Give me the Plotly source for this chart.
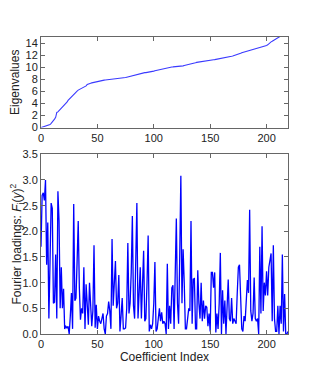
import plotly.graph_objects as go
from plotly.subplots import make_subplots

eigenvalues = [
    0.0, 0.05, 0.1, 0.2, 0.3, 0.35, 0.4, 0.45, 0.5, 0.7,
    0.9, 1.1, 1.4, 1.7, 2.5, 2.6, 2.8, 3.0, 3.15, 3.3,
    3.6, 3.8, 4.0, 4.2, 4.5, 4.7, 5.0, 5.2, 5.4, 5.6,
    5.75, 5.9, 6.05, 6.2, 6.3, 6.4, 6.45, 6.55, 6.65, 6.7,
    6.9, 7.15, 7.25, 7.3, 7.35, 7.4, 7.45, 7.5, 7.55, 7.6,
    7.65, 7.7, 7.75, 7.8, 7.82, 7.84, 7.86, 7.88, 7.9, 7.93,
    7.96, 8.0, 8.02, 8.04, 8.05, 8.06, 8.07, 8.08, 8.09, 8.1,
    8.1, 8.12, 8.15, 8.2, 8.25, 8.3, 8.35, 8.4, 8.45, 8.5,
    8.55, 8.6, 8.65, 8.72, 8.8, 8.85, 8.9, 8.95, 9.0, 9.02,
    9.05, 9.08, 9.1, 9.1, 9.12, 9.15, 9.18, 9.22, 9.26, 9.3,
    9.35, 9.4, 9.45, 9.5, 9.55, 9.6, 9.65, 9.7, 9.75, 9.8,
    9.85, 9.88, 9.92, 9.96, 10.0, 10.02, 10.04, 10.05, 10.06, 10.07,
    10.08, 10.09, 10.1, 10.12, 10.15, 10.18, 10.22, 10.28, 10.34, 10.4,
    10.42, 10.45, 10.5, 10.55, 10.6, 10.65, 10.7, 10.75, 10.8, 10.82,
    10.84, 10.86, 10.9, 10.93, 10.96, 11.0, 11.02, 11.05, 11.08, 11.1,
    11.13, 11.16, 11.2, 11.22, 11.25, 11.28, 11.3, 11.33, 11.36, 11.4,
    11.43, 11.46, 11.5, 11.55, 11.58, 11.62, 11.65, 11.7, 11.75, 11.8,
    11.85, 11.9, 11.95, 12.0, 12.05, 12.1, 12.2, 12.3, 12.4, 12.45,
    12.5, 12.55, 12.6, 12.7, 12.8, 12.85, 12.9, 12.95, 13.0, 13.05,
    13.1, 13.15, 13.2, 13.25, 13.3, 13.35, 13.4, 13.45, 13.5, 13.55,
    13.6, 13.7, 13.9, 14.1, 14.2, 14.3, 14.4, 14.5, 14.55, 14.65,
    14.8, 14.95, 15.1, 15.3, 15.5, 15.7, 15.9, 16.1, 16.3, 16.5,
]

loadings = [
    1.7, 2.7, 2.75, 2.6, 3.0, 1.35, 2.17, 0.3, 1.4, 2.55,
    2.45, 0.6, 0.62, 1.55, 0.3, 2.78, 2.2, 0.5, 1.3, 0.5,
    0.88, 0.1, 0.15, 0.12, 0.15, 0.0, 0.35, 0.8, 0.1, 2.53,
    0.65, 0.7, 1.4, 2.2, 0.9, 0.28, 0.5, 0.4, 1.3, 0.1,
    0.97, 0.5, 0.18, 1.0, 0.5, 0.15, 0.45, 1.73, 0.12, 0.57,
    0.1, 0.35, 0.25, 0.2, 0.3, 0.4, 0.1, 0.0, 0.35, 0.4,
    0.63, 0.45, 0.1, 1.85, 0.55, 0.9, 1.42, 0.5, 0.6, 1.15,
    0.05, 0.35, 0.7, 0.1, 0.1, 0.12, 0.5, 1.77, 0.4, 0.6,
    1.2, 2.3, 0.55, 0.3, 1.2, 2.55, 0.3, 0.7, 1.3, 0.3,
    0.8, 1.62, 0.25, 0.3, 1.0, 1.92, 0.05, 0.18, 0.1, 0.2,
    0.6, 1.4, 0.05, 0.1, 0.3, 0.5, 0.25, 0.42, 0.2, 0.25,
    0.2, 0.0, 1.37, 0.1, 0.55, 0.2, 0.9, 0.95, 0.1, 1.0,
    2.25, 0.6, 0.2, 1.5, 3.08, 0.6, 1.65, 1.0, 0.1, 0.1,
    0.3, 0.5, 0.45, 2.2, 0.2, 1.07, 1.08, 0.1, 0.1, 1.24,
    0.6, 0.3, 1.0, 0.25, 0.65, 0.3, 0.55, 0.52, 0.15, 0.4,
    0.05, 1.2, 1.2, 0.9, 1.2, 0.03, 0.4, 0.1, 0.6, 1.58,
    0.0, 0.85, 0.2, 0.65, 0.0, 0.4, 1.06, 0.3, 0.25, 0.7,
    0.2, 0.3, 0.25, 0.2, 0.8, 1.3, 1.35, 0.6, 0.1, 0.05,
    0.35, 0.25, 0.6, 1.05, 0.8, 2.42, 0.45, 0.25, 0.4, 1.1,
    0.3, 0.25, 0.3, 0.0, 1.7, 0.4, 2.1, 0.45, 1.0, 0.75,
    1.22, 0.75, 1.3, 1.5, 1.57, 0.25, 1.73, 0.3, 0.05, 0.05,
    0.55, 0.0, 0.55, 0.2, 1.55, 0.05, 0.78, 0.0, 0.0, 0.05,
]

idx_top = list(range(len(eigenvalues)))
idx_bot = list(range(len(loadings)))

top_yticks = [0, 2, 4, 6, 8, 10, 12, 14]
bot_yticks = [0.0, 0.5, 1.0, 1.5, 2.0, 2.5, 3.0, 3.5]
xticks = [0, 50, 100, 150, 200]

fig = make_subplots(rows=2, cols=1, vertical_spacing=0.0, row_heights=[0.5, 0.5])
fig.add_trace(go.Scatter(x=idx_top, y=eigenvalues, mode="lines",
                         line=dict(color="#3a3aff", width=1.1)), row=1, col=1)
fig.add_trace(go.Scatter(x=idx_bot, y=loadings, mode="lines",
                         line=dict(color="#0000ff", width=1.3)), row=2, col=1)

fam = "Liberation Sans, Arial, sans-serif"
font = dict(family=fam, size=11, color="#222")
title_font = dict(family=fam, size=12, color="#222")
axis_common = dict(showline=True, linecolor="#666", linewidth=1, mirror="allticks",
                   ticks="inside", ticklen=4, tickcolor="#666", showgrid=False,
                   zeroline=False, tickfont=font, automargin=False)

fig.update_xaxes(range=[0, 219], tickvals=xticks, **axis_common)
fig.update_yaxes(**axis_common)
fig.update_yaxes(domain=[0.695, 1.0], row=1, col=1)
fig.update_yaxes(domain=[0.0, 0.605], row=2, col=1)
fig.update_yaxes(range=[0, 15], tickvals=top_yticks, row=1, col=1,
                 title=dict(text="Eigenvalues", font=title_font, standoff=5))
fig.update_yaxes(range=[0, 3.5], tickvals=bot_yticks, tickformat=".1f", row=2, col=1,
                 title=dict(text="Fourier loadings: <i>F</i><sub>i</sub>(<i>y</i>)<sup>2</sup>",
                            font=title_font, standoff=8))
fig.update_xaxes(row=2, col=1, title=dict(text="Coefficient Index", font=title_font, standoff=2))

# page body adds an 8 px offset; margins compensate so the plot sits where the reference's does
fig.update_layout(width=319, height=371, showlegend=False,
                  margin=dict(l=33, r=39, t=29, b=45),
                  paper_bgcolor="white", plot_bgcolor="white", font=font)
fig.write_html("out.html")
